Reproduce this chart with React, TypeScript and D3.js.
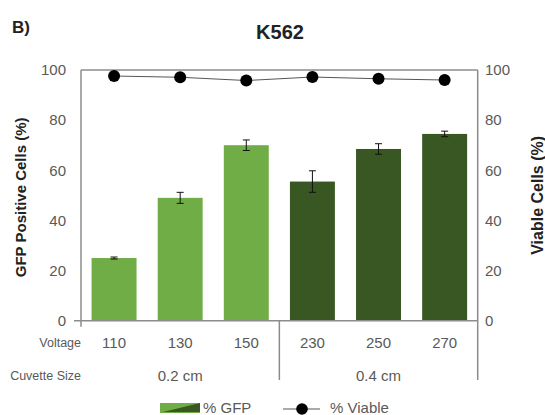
import React from 'react'
import * as d3 from 'd3'

const voltages = ['110', '130', '150', '230', '250', '270']
const cuvette = ['0.2 cm', '0.2 cm', '0.2 cm', '0.4 cm', '0.4 cm', '0.4 cm']
const cuvetteGroups = ['0.2 cm', '0.4 cm']
const gfp = [25, 49, 70, 55.5, 68.5, 74.5]
const gfpErr = [0.4, 2.2, 2.1, 4.3, 2.1, 1.1]
const viable = [97.6, 97.1, 95.8, 97.2, 96.5, 96.0]
const yTicks = [0, 20, 40, 60, 80, 100]

const colorByCuvette: Record<string, string> = { '0.2 cm': '#70ad47', '0.4 cm': '#385723' }

export default function App() {
  const W = 545
  const H = 415
  const left = 81
  const right = 477.7
  const top = 70
  const bottom = 320.7

  const x = d3.scaleBand<string>()
    .domain(voltages)
    .range([left, right])
    .paddingInner(0.32)
    .paddingOuter(0.16)

  const y = d3.scaleLinear().domain([0, 100]).range([bottom, top])

  const cx = (i: number) => (x(voltages[i]) as number) + x.bandwidth() / 2
  const step = x.step()

  const viableLine = d3.line<number>()
    .x((d, i) => cx(i))
    .y(d => y(d))

  const axisColor = '#8c8c8c'
  const textColor = '#595959'
  const font = '"Liberation Sans", Arial, sans-serif'

  // where the cuvette groups start/end
  const groupSpans = cuvetteGroups.map(g => {
    const idx = cuvette.map((c, i) => (c === g ? i : -1)).filter(i => i >= 0)
    const x0 = x(voltages[idx[0]]) as number - step * 0.16
    const x1 = (x(voltages[idx[idx.length - 1]]) as number) + x.bandwidth() + step * 0.16
    return { g, x0, x1 }
  })

  return (
    <svg width={W} height={H} style={{ position: 'absolute', left: 0, top: 0, background: '#fff' }} fontFamily={font}>
      <text x={12} y={33} fontSize={17} fontWeight="bold" fill="#222">B)</text>
      <text x={280} y={39} fontSize={20} fontWeight="bold" textAnchor="middle" fill="#222">K562</text>

      {/* bars */}
      {gfp.map((v, i) => (
        <rect key={'b' + i}
          x={x(voltages[i])}
          y={y(v)}
          width={x.bandwidth()}
          height={bottom - y(v)}
          fill={colorByCuvette[cuvette[i]]} />
      ))}

      {/* error bars */}
      {gfp.map((v, i) => (
        <g key={'e' + i} stroke="#111" strokeWidth={1}>
          <line x1={cx(i)} x2={cx(i)} y1={y(v + gfpErr[i])} y2={y(v - gfpErr[i])} />
          <line x1={cx(i) - 3.5} x2={cx(i) + 3.5} y1={y(v + gfpErr[i])} y2={y(v + gfpErr[i])} />
          <line x1={cx(i) - 3.5} x2={cx(i) + 3.5} y1={y(v - gfpErr[i])} y2={y(v - gfpErr[i])} />
        </g>
      ))}

      {/* frame */}
      <g stroke={axisColor} strokeWidth={1.5} fill="none">
        <line x1={left} x2={right} y1={top} y2={top} />
        <line x1={left} x2={left} y1={top} y2={bottom + 6} />
        <line x1={right} x2={right} y1={top} y2={380} />
        <line x1={left - 7} x2={right} y1={bottom} y2={bottom} />
        <line x1={groupSpans[0].x1} x2={groupSpans[0].x1} y1={bottom} y2={380} />
      </g>

      {/* viable line */}
      <path d={viableLine(viable) as string} fill="none" stroke="#555" strokeWidth={1} />
      {viable.map((v, i) => (
        <circle key={'c' + i} cx={cx(i)} cy={y(v)} r={6} fill="#000" />
      ))}

      {/* y tick labels */}
      {yTicks.map(t => (
        <g key={'t' + t} fontSize={15} fill={textColor}>
          <text x={66} y={y(t)} dy="0.35em" textAnchor="end">{t}</text>
          <text x={485} y={y(t)} dy="0.35em">{t}</text>
        </g>
      ))}

      {/* category labels */}
      <text x={81} y={343} dy="0.35em" textAnchor="end" fontSize={12.5} fill={textColor}>Voltage</text>
      <text x={81} y={376} dy="0.35em" textAnchor="end" fontSize={12.5} fill={textColor}>Cuvette Size</text>
      {voltages.map((v, i) => (
        <text key={'v' + i} x={cx(i)} y={343} dy="0.35em" textAnchor="middle" fontSize={15} fill={textColor}>{v}</text>
      ))}
      {groupSpans.map(s => (
        <text key={s.g} x={(s.x0 + s.x1) / 2} y={376} dy="0.35em" textAnchor="middle" fontSize={15} fill={textColor}>{s.g}</text>
      ))}

      {/* axis titles */}
      <text transform={`translate(21,${(top + bottom) / 2 + 2}) rotate(-90)`} dy="0.35em" textAnchor="middle" fontSize={15} fontWeight="bold" fill="#222">GFP Positive Cells (%)</text>
      <text transform={`translate(537,${(top + bottom) / 2}) rotate(-90)`} dy="0.35em" textAnchor="middle" fontSize={16} fontWeight="bold" fill="#222">Viable Cells (%)</text>

      {/* legend */}
      <rect x={160} y={403} width={40} height={10} fill={colorByCuvette['0.2 cm']} />
      <polygon points="163,412 200,403 200,412" fill={colorByCuvette['0.4 cm']} />
      <text x={203} y={408} dy="0.35em" fontSize={15} fill={textColor}>% GFP</text>
      <line x1={283} x2={320} y1={409} y2={409} stroke="#555" strokeWidth={1} />
      <circle cx={302} cy={409} r={5.8} fill="#000" />
      <text x={330} y={408} dy="0.35em" fontSize={15} fill={textColor}>% Viable</text>
    </svg>
  )
}
